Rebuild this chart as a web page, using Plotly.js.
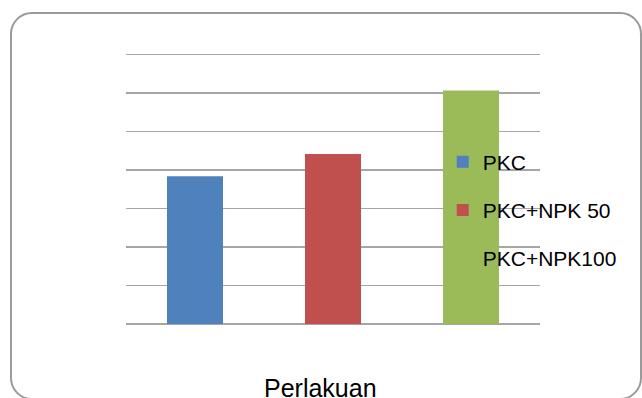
<!DOCTYPE html>
<html>
<head>
<meta charset="utf-8">
<script src="https://cdn.plot.ly/plotly-3.0.1.min.js"></script>
<style>
  html, body { margin: 0; padding: 0; background: #ffffff; }
  #wrap { position: relative; width: 642px; height: 398px; overflow: hidden; }
  #chart { position: absolute; left: 0; top: 0; width: 642px; height: 398px; }
  #frame { position: absolute; left: 10px; top: 12px; width: 628px; height: 384px;
           border: 2px solid #9a9a9a; border-radius: 22px; pointer-events: none; }
</style>
</head>
<body>
<div id="wrap">
  <div id="chart"></div>
  <div id="frame"></div>
</div>
<script>
// Data (gridline units)
const categories = ["PKC", "PKC+NPK 50", "PKC+NPK100"];
const values = [3.84, 4.42, 6.07];
const colors = ["#4F81BD", "#C0504D", "#9BBB59"];
const gridValues = [0, 1, 2, 3, 4, 5, 6, 7];
const xTitle = "Perlakuan";

const traces = categories.map((c, i) => ({
  type: "bar",
  name: c,
  x: [c],
  y: [values[i]],
  marker: { color: colors[i] },
  legendgroup: "g" + i,
  hoverinfo: "x+y"
}));

const layout = {
  width: 642,
  height: 398,
  margin: { l: 126, r: 102, t: 52, b: 74, pad: 0 },
  paper_bgcolor: "rgba(0,0,0,0)",
  plot_bgcolor: "rgba(0,0,0,0)",
  barmode: "overlay",
  bargap: 0.594,
  font: { family: "Liberation Sans, Arial, sans-serif", color: "#000000" },
  xaxis: {
    type: "category",
    categoryorder: "array",
    categoryarray: categories,
    showticklabels: false,
    showgrid: false,
    zeroline: false,
    showline: false,
    ticks: ""
  },
  yaxis: {
    range: [0, 7.07],
    tickvals: gridValues,
    showticklabels: false,
    showgrid: true,
    gridcolor: "#a6a6a6",
    gridwidth: 1.5,
    zeroline: true,
    zerolinecolor: "#a6a6a6",
    zerolinewidth: 1.5,
    showline: false,
    ticks: ""
  },
  showlegend: true,
  legend: {
    x: 0.765,
    xanchor: "left",
    y: 0.671,
    yanchor: "top",
    bgcolor: "rgba(0,0,0,0)",
    font: { size: 21, family: "Liberation Sans, Arial, sans-serif", color: "#000000" },
    traceorder: "grouped",
    tracegroupgap: 18
  },
  annotations: [{
    text: xTitle,
    xref: "paper",
    yref: "paper",
    x: 0.47,
    y: -0.176,
    xanchor: "center",
    yanchor: "top",
    showarrow: false,
    font: { size: 25, family: "Liberation Sans, Arial, sans-serif", color: "#000000" }
  }]
};

Plotly.newPlot("chart", traces, layout, { displayModeBar: false, staticPlot: true });
</script>
</body>
</html>
